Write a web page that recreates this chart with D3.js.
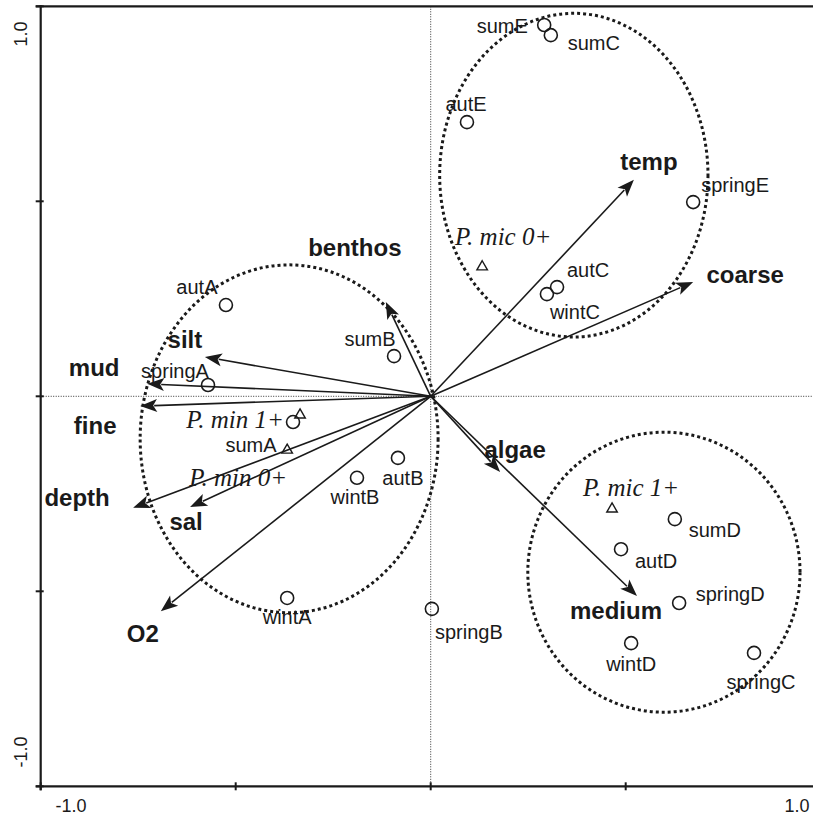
<!DOCTYPE html>
<html>
<head>
<meta charset="utf-8">
<script src="https://cdn.jsdelivr.net/npm/d3@7"></script>
<style>
  html, body { margin: 0; padding: 0; background: #fff; }
  svg { display: block; }
  .site-label { font-family: "Liberation Sans", Arial, sans-serif; font-size: 20px; fill: #1a1a1a; }
  .env-label { font-family: "Liberation Sans", Arial, sans-serif; font-size: 24px; font-weight: bold; fill: #1a1a1a; }
  .spp-label { font-family: "Liberation Serif", "Times New Roman", serif; font-size: 25px; font-style: italic; fill: #1a1a1a; }
  .tick-label { font-family: "Liberation Sans", Arial, sans-serif; font-size: 18px; fill: #1a1a1a; }
</style>
</head>
<body>
<svg id="chart" width="813" height="816"></svg>
<script>
// Sample scores (open circles)
const siteNames = ["sumE","sumC","autE","springE","autC","wintC","autA","sumB","springA","sumA",
                   "autB","wintB","wintA","springB","sumD","autD","springD","wintD","springC"];
const siteX = [0.291,0.308,0.093,0.673,0.324,0.298,-0.525,-0.094,-0.571,-0.353,
               -0.084,-0.189,-0.368,0.003,0.626,0.488,0.637,0.514,0.829];
const siteY = [0.952,0.926,0.703,0.498,0.280,0.262,0.234,0.103,0.029,-0.066,
               -0.158,-0.209,-0.517,-0.545,-0.315,-0.392,-0.530,-0.633,-0.658];

// Species scores (triangles)
const sppNames = ["P. mic 0+","P. min 1+","P. min 0+","P. mic 1+"];
const sppX = [0.132,-0.335,-0.368,0.465];
const sppY = [0.332,-0.048,-0.138,-0.289];

// Environmental variables (arrows from the origin)
const envNames = ["temp","coarse","benthos","silt","mud","fine","depth","sal","O2","algae","medium"];
const envX = [0.521,0.673,-0.115,-0.579,-0.727,-0.745,-0.763,-0.617,-0.692,0.178,0.529];
const envY = [0.555,0.293,0.242,0.101,0.032,-0.025,-0.286,-0.284,-0.551,-0.194,-0.512];

// Group envelopes (centre and radii in axis units)
const groupCX = [0.367,-0.363,0.598];
const groupCY = [0.567,-0.109,-0.451];
const groupRX = [0.344,0.382,0.349];
const groupRY = [0.415,0.446,0.359];

// Axis tick values and labels
const tickValues = [-1,-0.5,0,0.5,1];
const tickLabels = ["-1.0","1.0"];

// Label placement relative to each mark, in pixels
const siteLabelOffset = {
  sumE:[-42,1], sumC:[43,8], autE:[-1,-18], springE:[42,-17], autC:[31,-17], wintC:[28,18],
  autA:[-29,-18], sumB:[-24,-17], springA:[-33,-14], sumA:[-42,23], autB:[5,20], wintB:[-2,19],
  wintA:[0,19], springB:[37,23], sumD:[40,11], autD:[35,12], springD:[51,-9], wintD:[0,21], springC:[7,29]
};
const sppLabelOffset = {"P. mic 0+":[21,-30], "P. min 1+":[-65,4], "P. min 0+":[-49,27], "P. mic 1+":[19,-22]};
const envLabelOffset = {
  temp:[15,-18], coarse:[52,-8], benthos:[-31,-54], silt:[-20,-17], mud:[-53,-16], fine:[-45,19],
  depth:[-56,-10], sal:[-4,14], O2:[-18,22], algae:[15,-22], medium:[-21,15]
};

const svg = d3.select("#chart");
const x = d3.scaleLinear().domain([-1, 1]).range([40.7, 820.7]);
const y = d3.scaleLinear().domain([-1, 1]).range([786.3, 6.3]);
const ink = "#1a1a1a";

// Zero lines
svg.append("line").attr("x1", x(-1)).attr("x2", 813).attr("y1", y(0)).attr("y2", y(0))
  .attr("stroke", "#333").attr("stroke-width", 1).attr("stroke-dasharray", "1 1.5");
svg.append("line").attr("x1", x(0)).attr("x2", x(0)).attr("y1", y(1)).attr("y2", y(-1))
  .attr("stroke", "#333").attr("stroke-width", 1).attr("stroke-dasharray", "1 1.5");

// Frame: left, bottom and top lines
svg.append("line").attr("x1", x(-1)).attr("x2", x(-1)).attr("y1", y(1) - 1).attr("y2", y(-1) + 4)
  .attr("stroke", ink).attr("stroke-width", 2.2);
svg.append("line").attr("x1", x(-1) - 5).attr("x2", 813).attr("y1", y(-1)).attr("y2", y(-1))
  .attr("stroke", ink).attr("stroke-width", 2.2);
svg.append("line").attr("x1", x(-1) - 5).attr("x2", 813).attr("y1", y(1)).attr("y2", y(1))
  .attr("stroke", ink).attr("stroke-width", 2.2);

// Tick marks
svg.selectAll("line.ytick").data(tickValues).enter().append("line").attr("class", "ytick")
  .attr("x1", x(-1) - 5).attr("x2", x(-1) + 3).attr("y1", d => y(d)).attr("y2", d => y(d))
  .attr("stroke", ink).attr("stroke-width", 2);
svg.selectAll("line.xtick").data(tickValues.filter(d => d < 1)).enter().append("line").attr("class", "xtick")
  .attr("x1", d => x(d)).attr("x2", d => x(d)).attr("y1", y(-1) - 4).attr("y2", y(-1) + 4)
  .attr("stroke", ink).attr("stroke-width", 2);

// Tick labels at the ends of the axes
svg.append("text").attr("class", "tick-label").attr("x", 71).attr("y", 812).attr("text-anchor", "middle").text(tickLabels[0]);
svg.append("text").attr("class", "tick-label").attr("x", 797).attr("y", 812).attr("text-anchor", "middle").text(tickLabels[1]);
svg.append("text").attr("class", "tick-label").attr("transform", "translate(27,752) rotate(-90)").attr("text-anchor", "middle").text(tickLabels[0]);
svg.append("text").attr("class", "tick-label").attr("transform", "translate(27,34) rotate(-90)").attr("text-anchor", "middle").text(tickLabels[1]);

// Dotted group envelopes
svg.selectAll("ellipse.grp").data(groupCX).enter().append("ellipse").attr("class", "grp")
  .attr("cx", (d, i) => x(d)).attr("cy", (d, i) => y(groupCY[i]))
  .attr("rx", (d, i) => x(groupRX[i]) - x(0)).attr("ry", (d, i) => y(0) - y(groupRY[i]))
  .attr("fill", "none").attr("stroke", ink).attr("stroke-width", 3).attr("stroke-dasharray", "3 3");

// Environmental arrows
const headLen = 17, headHalf = 6.5;
const env = envNames.map((n, i) => ({ name: n, x: envX[i], y: envY[i] }));
const eg = svg.append("g");
env.forEach(d => {
  const x0 = x(0), y0 = y(0), x1 = x(d.x), y1 = y(d.y);
  const len = Math.hypot(x1 - x0, y1 - y0);
  const ux = (x1 - x0) / len, uy = (y1 - y0) / len;
  const bx = x1 - ux * headLen, by = y1 - uy * headLen;
  eg.append("line").attr("x1", x0).attr("y1", y0).attr("x2", bx + ux * 3).attr("y2", by + uy * 3)
    .attr("stroke", ink).attr("stroke-width", 1.6);
  eg.append("path")
    .attr("d", `M${x1},${y1}L${bx - uy * headHalf},${by + ux * headHalf}L${bx + ux * 4},${by + uy * 4}L${bx + uy * headHalf},${by - ux * headHalf}Z`)
    .attr("fill", ink);
  const off = envLabelOffset[d.name];
  eg.append("text").attr("class", "env-label").attr("x", x1 + off[0]).attr("y", y1 + off[1])
    .attr("text-anchor", "middle").attr("dominant-baseline", "central").text(d.name);
});

// Samples
const sites = siteNames.map((n, i) => ({ name: n, x: siteX[i], y: siteY[i] }));
svg.selectAll("circle.site").data(sites).enter().append("circle").attr("class", "site")
  .attr("cx", d => x(d.x)).attr("cy", d => y(d.y)).attr("r", 6.5)
  .attr("fill", "none").attr("stroke", ink).attr("stroke-width", 1.6);
svg.selectAll("text.site-label").data(sites).enter().append("text").attr("class", "site-label")
  .attr("x", d => x(d.x) + siteLabelOffset[d.name][0]).attr("y", d => y(d.y) + siteLabelOffset[d.name][1])
  .attr("text-anchor", "middle").attr("dominant-baseline", "central").text(d => d.name);

// Species
const spp = sppNames.map((n, i) => ({ name: n, x: sppX[i], y: sppY[i] }));
const tri = d3.symbol().type(d3.symbolTriangle).size(48);
svg.selectAll("path.spp").data(spp).enter().append("path").attr("class", "spp")
  .attr("transform", d => `translate(${x(d.x)},${y(d.y)})`).attr("d", tri())
  .attr("fill", "none").attr("stroke", ink).attr("stroke-width", 1.4);
svg.selectAll("text.spp-label").data(spp).enter().append("text").attr("class", "spp-label")
  .attr("x", d => x(d.x) + sppLabelOffset[d.name][0]).attr("y", d => y(d.y) + sppLabelOffset[d.name][1])
  .attr("text-anchor", "middle").attr("dominant-baseline", "central").text(d => d.name);
</script>
</body>
</html>
